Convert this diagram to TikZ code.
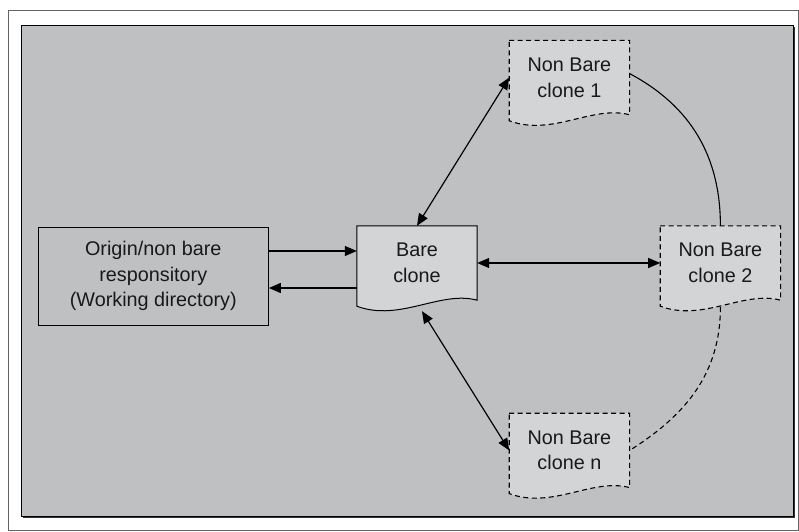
\documentclass[tikz,border=0pt]{standalone}
\usepackage{fontspec}
\setmainfont{Liberation Sans}
\usetikzlibrary{positioning,arrows.meta,backgrounds}
\usepackage{xcolor}

\definecolor{panelgray}{RGB}{191,192,194}
\definecolor{docgray}{RGB}{211,212,214}
\definecolor{framegray}{RGB}{100,100,100}

% page outline with a wavy bottom, drawn round a named node
\newcommand{\docshape}[2]{%
  \path[#2] (#1.north west) -- (#1.north east) -- (#1.south east)
    .. controls ([xshift=-37pt,yshift=10pt]#1.south east) and ([xshift=43pt,yshift=-22pt]#1.south west)
    .. ([yshift=-6pt]#1.south west) -- cycle;}

\begin{document}
\begin{tikzpicture}[
            x=1pt, y=1pt,
            every node/.style={font=\fontsize{19.8}{25.5}\selectfont, text=black!90},
            docbox/.style={minimum width=120pt, minimum height=74pt, inner sep=0pt, align=center},
            origbox/.style={draw, line width=1pt, fill=panelgray, minimum width=230pt, minimum height=98pt, align=center},
            docline/.style={draw, line width=1pt, fill=docgray},
            dashline/.style={docline, line width=1.1pt, dash pattern=on 5pt off 3.5pt},
            arrow/.style={-{Triangle[length=12pt, width=10pt]}, line width=1.2pt},
            twoway/.style={{Triangle[length=12pt, width=10pt]}-{Triangle[length=12pt, width=10pt]}, line width=1.2pt}
        ]
            \useasboundingbox (0,0) rectangle (799,531);

            % Outer frame
            \draw[framegray, line width=1pt] (8,1) rectangle (798.5,520.5);

            % Bare clone in the middle
            \node[docbox] (bare) at (417,268) {Bare\\clone};

            % Origin repository
            \node[origbox, left=88pt of bare, yshift=-13pt] (origin) {Origin/non bare\\responsitory\\(Working directory)};

            % Non bare clones
            \node[docbox, right=183pt of bare] (nb2) {Non Bare\\clone 2};
            \node[docbox, above right=111pt and 32pt of bare] (nb1) {Non Bare\\clone 1};
            \node[docbox, below right=113pt and 32pt of bare] (nbn) {Non Bare\\clone n};

            % Panel and page outlines
            \begin{scope}[on background layer]
                \fill[black!80] (22.5,13.5) rectangle (794.5,504);
                \draw[line width=0.8pt, fill=panelgray] (21,15) rectangle (793,505.5);
                \docshape{bare}{docline}
                \docshape{nb1}{dashline}
                \docshape{nb2}{dashline}
                \docshape{nbn}{dashline}
            \end{scope}

            % Arrows between origin and bare clone
            \coordinate (o-top) at ([yshift=25pt]origin.east);
            \coordinate (o-bot) at ([yshift=-12pt]origin.east);
            \draw[arrow] (o-top) -- (o-top -| bare.west);
            \draw[arrow] (o-bot -| bare.west) -- (o-bot);

            % Arrows from bare clone to the clones
            \coordinate (bare-wave) at ([xshift=5pt, yshift=-11pt]bare.south);
            \draw[twoway] (bare.north) -- (nb1.west);
            \draw[twoway] (bare.east) -- (nb2.west);
            \draw[twoway] (bare-wave) -- (nbn.west);

            % Links between the clones
            \draw[line width=1.1pt] ([yshift=4pt]nb1.east) to[out=-28, in=90] (nb2.north);
            \draw[line width=1.1pt, dash pattern=on 5pt off 3.5pt] ([yshift=-7pt]nb2.south) to[out=-90, in=32] (nbn.east);

        \end{tikzpicture}
\end{document}
